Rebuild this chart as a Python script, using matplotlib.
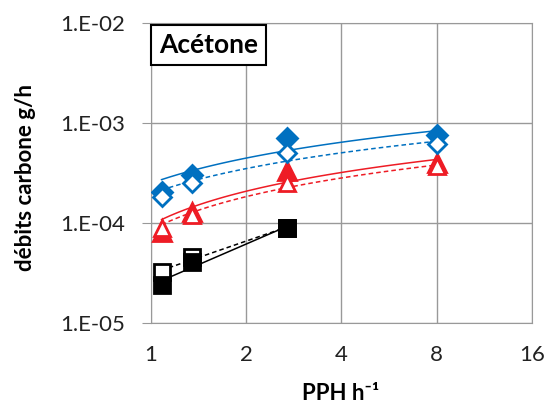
import numpy as np
import matplotlib.pyplot as plt

# PPH values (h-1)
pph = [1.08, 1.35, 2.7, 8.0]
pph_black = [1.08, 1.35, 2.7]

blue_filled = [2.05e-4, 3.0e-4, 7.1e-4, 7.6e-4]
blue_open = [1.8e-4, 2.5e-4, 5.0e-4, 6.2e-4]
red_filled = [8.1e-5, 1.3e-4, 3.3e-4, 4.0e-4]
red_open = [9.0e-5, 1.2e-4, 2.5e-4, 3.7e-4]
black_filled = [2.4e-5, 4.1e-5, 9.0e-5]
black_open = [3.2e-5, 4.6e-5, 9.0e-5]

xticks = [1, 2, 4, 8, 16]
yticks = [1e-5, 1e-4, 1e-3, 1e-2]
ytick_labels = ["1.E-05", "1.E-04", "1.E-03", "1.E-02"]

blue = "#0070C0"
red = "#EE1C25"

plt.rcParams['font.family'] = ['Lato', 'DejaVu Sans']

fig = plt.figure(figsize=(5.49, 4.09), dpi=100)
ax = fig.add_axes([0.275, 0.2103, 0.694, 0.7335])


def trend(x, y, color, ls, kind):
    # excel style trendlines
    xx = np.linspace(min(x), max(x), 100)
    if kind == 'log':
        a, b = np.polyfit(np.log(x), y, 1)
        yy = a * np.log(xx) + b
    else:
        a, b = np.polyfit(np.log(x), np.log(y), 1)
        yy = np.exp(b) * xx ** a
    ax.plot(xx, yy, color=color, ls=ls, lw=1.1, zorder=2)


# x, y, colour, marker, filled, size, trend type, z order
series = [
    (pph, blue_filled, blue, 'D', True, 10.5, 'log', 3),
    (pph, blue_open, blue, 'D', False, 9.5, 'log', 4),
    (pph, red_filled, red, '^', True, 13, 'log', 3),
    (pph, red_open, red, '^', False, 12, 'log', 4),
    (pph_black, black_open, 'black', 's', False, 11, 'pow', 3),
    (pph_black, black_filled, 'black', 's', True, 12, 'pow', 4),
]

for x, y, c, m, filled, ms, kind, z in series:
    ax.plot(x, y, ls='none', marker=m, ms=ms,
            mfc=c if filled else 'white', mec=c, mew=2, zorder=z)
    trend(x, y, c, '-' if filled else (0, (3, 2)), kind)

ax.set_xscale('log', base=2)
ax.set_yscale('log')
ax.set_xlim(1, 16)
ax.set_ylim(1e-5, 1e-2)
ax.set_xticks(xticks)
ax.set_xticklabels([str(t) for t in xticks])
ax.set_yticks(yticks)
ax.set_yticklabels(ytick_labels)
ax.minorticks_off()
ax.grid(True, color='#999999', lw=1)
ax.set_axisbelow(True)
for s in ax.spines.values():
    s.set_color('#999999')
ax.tick_params(axis='y', length=6.5, color='#999999', labelsize=16, pad=12,
               labelcolor='#222222')
ax.tick_params(axis='x', length=0, labelsize=16, pad=16, labelcolor='#222222')

ax.set_xlabel("PPH h⁻¹", fontsize=16, fontweight='bold')
ax.xaxis.set_label_coords(0.499, -0.2)
ax.set_ylabel("débits carbone g/h", fontsize=16, fontweight='bold')
ax.yaxis.set_label_coords(-0.302, 0.485)

ax.text(0.152, 0.927, "Acétone", transform=ax.transAxes, fontsize=19,
        fontweight='bold', va='center', ha='center', zorder=10,
        bbox=dict(boxstyle='square,pad=0.3', fc='white', ec='black', lw=1.5))

fig.savefig("out.png", dpi=100)
